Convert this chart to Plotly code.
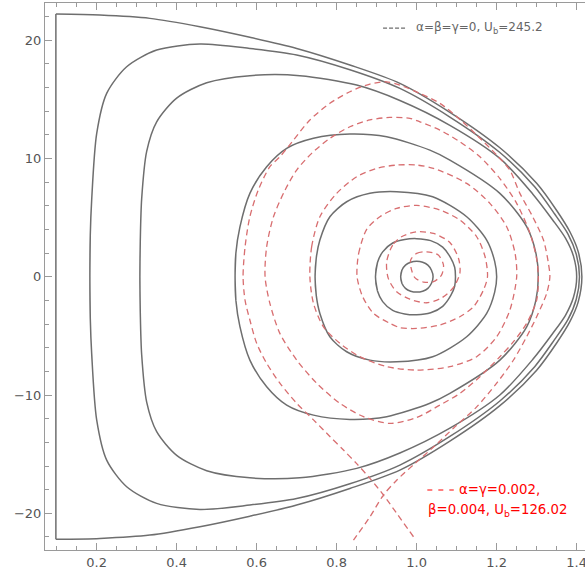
import plotly.graph_objects as go

# ---------------- data ----------------
# Gray closed curves (alpha=beta=gamma=0): upper halves, the curves are symmetric in y
c1_x = [0.960, 0.963, 0.972, 0.985, 1.000, 1.015, 1.028, 1.037, 1.041]
c1_y = [0.0, 0.55, 0.98, 1.22, 1.30, 1.22, 0.98, 0.55, 0.0]

c2_x = [0.897, 0.902, 0.915, 0.940, 0.970, 1.000, 1.035, 1.065, 1.085, 1.095, 1.097]
c2_y = [0.0, 1.2, 2.1, 2.85, 3.15, 3.22, 3.05, 2.5, 1.6, 0.8, 0.0]

c3_x = [0.746, 0.749, 0.758, 0.783, 0.825, 0.883, 0.950, 1.040, 1.125, 1.175, 1.195, 1.200]
c3_y = [0.0, 1.6, 3.1, 5.07, 6.34, 7.05, 7.19, 6.76, 5.07, 3.1, 1.3, 0.0]

c4_x = [0.546, 0.548, 0.558, 0.583, 0.625, 0.675, 0.742, 0.833, 0.925, 1.033, 1.083, 1.208, 1.275, 1.298, 1.304]
c4_y = [0.0, 2.0, 4.2, 7.05, 9.3, 10.85, 11.7, 12.06, 11.83, 10.7, 9.86, 7.05, 4.23, 2.0, 0.0]

c5_x = [0.308, 0.309, 0.3125, 0.325, 0.350, 0.400, 0.475, 0.583, 0.708, 0.850, 0.958, 1.083, 1.208, 1.290,
        1.340, 1.372, 1.392, 1.400]
c5_y = [0.0, 3.0, 6.6, 10.6, 13.1, 15.1, 16.4, 17.0, 17.0, 16.2, 14.9, 12.8, 10.0, 7.0,
        4.8, 3.26, 1.74, 0.0]

c6_x = [0.183, 0.184, 0.1875, 0.200, 0.225, 0.275, 0.350, 0.458, 0.583, 0.700, 0.833, 0.958, 1.083, 1.208,
        1.295, 1.345, 1.378, 1.399, 1.407]
c6_y = [0.0, 3.5, 6.5, 12.1, 15.5, 17.75, 19.16, 19.67, 19.3, 18.75, 17.5, 15.92, 13.5, 10.5,
        7.6, 5.3, 3.63, 1.9, 0.0]

# outermost curve: vertical left wall, then a smooth arc from the corner
c7_x = [0.098, 0.098, 0.208, 0.333, 0.458, 0.583, 0.700, 0.833, 0.958, 1.083, 1.208, 1.300,
        1.350, 1.383, 1.404, 1.413]
c7_y = [0.0, 22.2, 22.12, 21.84, 21.13, 20.24, 19.3, 17.9, 16.35, 13.9, 10.9, 7.9,
        5.6, 3.8, 2.1, 0.0]

# Red dashed curves (alpha=gamma=0.002, beta=0.004): closed loops
r1_x = [0.985, 1.000, 1.025, 1.054, 1.067, 1.062, 1.042, 1.017, 0.996, 0.987, 0.985]
r1_y = [1.41, 1.97, 2.11, 1.83, 0.99, 0.14, -0.42, -0.45, -0.10, 0.60, 1.41]

r2_x = [0.962, 0.940, 0.925, 0.929, 0.950, 0.983, 1.025, 1.062, 1.092, 1.108, 1.105, 1.083, 1.042, 1.000, 0.962]
r2_y = [3.38, 2.68, 1.27, -0.14, -1.27, -1.90, -2.20, -1.80, -0.90, 0.30, 1.50, 2.90, 3.66, 3.80, 3.38]

r3_x = [0.851, 0.855, 0.875, 0.908, 0.950, 1.000, 1.058, 1.108, 1.150, 1.171, 1.177, 1.167, 1.142, 1.108, 1.058,
        1.000, 0.958, 0.933, 0.892, 0.865, 0.851]
r3_y = [0.0, 1.97, 4.0, 5.07, 5.78, 6.03, 5.64, 4.79, 3.38, 1.69, 0.0, -1.12, -2.54, -3.38, -4.08,
        -4.37, -4.30, -3.94, -3.10, -1.69, 0.0]

r4_x = [0.733, 0.7375, 0.758, 0.800, 0.850, 0.900, 0.950, 1.000, 1.042, 1.125, 1.183, 1.225, 1.246, 1.250,
        1.233, 1.200, 1.150, 1.083, 1.000, 0.925, 0.858, 0.808, 0.767, 0.742, 0.733]
r4_y = [0.0, 2.54, 5.07, 7.05, 8.45, 9.16, 9.44, 9.44, 9.16, 7.89, 6.2, 4.23, 1.97, 0.0,
        -2.82, -5.07, -6.76, -7.6, -7.89, -7.6, -6.76, -5.63, -4.23, -2.25, 0.0]

r5_x = [0.621, 0.625, 0.642, 0.671, 0.700, 0.7375, 0.783, 0.833, 0.883, 0.933, 0.983, 1.008, 1.058, 1.108,
        1.158, 1.208, 1.250, 1.283, 1.300, 1.304, 1.300, 1.275, 1.242, 1.208, 1.158, 1.108, 1.058, 1.000,
        0.933, 0.867, 0.808, 0.750, 0.700, 0.658, 0.633, 0.621]
r5_y = [0.0, 2.54, 5.07, 7.33, 9.02, 10.43, 11.7, 12.68, 13.25, 13.47, 13.39, 13.1, 12.4, 11.41,
        10.14, 8.3, 6.2, 3.7, 1.5, 0.0, -1.97, -3.94, -5.49, -6.76, -8.45, -9.86, -10.85, -11.9,
        -12.4, -11.83, -10.7, -9.0, -7.04, -4.79, -2.25, 0.0]

# Red dashed separatrix through the crossing point near (0.917, -18.45)
r6_x = [0.992, 0.950, 0.917, 0.883, 0.850, 0.817, 0.783, 0.742, 0.700, 0.658, 0.625, 0.600, 0.583, 0.571,
        0.566, 0.571, 0.583, 0.604, 0.633, 0.658, 0.692, 0.733, 0.783, 0.833, 0.883, 0.925, 0.958, 1.008,
        1.058, 1.108, 1.150, 1.200, 1.233, 1.258, 1.290, 1.317, 1.329, 1.333, 1.325, 1.300, 1.275, 1.242,
        1.200, 1.150, 1.092, 1.042, 0.992, 0.950, 0.917, 0.883, 0.842]
r6_y = [-21.98, -20.0, -18.45, -17.04, -15.8, -14.65, -13.5, -12.1, -10.7, -9.0, -7.32, -5.63, -3.66, -2.0,
        0.0, 2.54, 5.07, 7.33, 9.3, 10.14, 11.55, 13.25, 14.66, 15.64, 16.29, 16.48, 16.2, 15.5,
        14.66, 13.3, 11.98, 10.29, 9.0, 7.05, 5.07, 3.1, 1.2, 0.0, -1.4, -3.38, -5.07, -7.04,
        -9.0, -11.0, -12.8, -14.4, -15.9, -17.2, -18.45, -20.3, -22.26]

x_tick_vals = [0.2, 0.4, 0.6, 0.8, 1.0, 1.2, 1.4]
x_tick_text = ["0.2", "0.4", "0.6", "0.8", "1.0", "1.2", "1.4"]
y_tick_vals = [-20, -10, 0, 10, 20]
y_tick_text = ["\u221220", "\u221210", "0", "10", "20"]

legend_gray = "\u03b1=\u03b2=\u03b3=0, U<sub>b</sub>=245.2"
legend_red_1 = "\u03b1=\u03b3=0.002,"
legend_red_2 = "\u03b2=0.004, U<sub>b</sub>=126.02"

# ---------------- styles ----------------
GRAY = "#6e6e6e"
RED = "rgb(216,110,112)"
FONT = "DejaVu Sans"

fig = go.Figure()


def mirrored(ux, uy):
    xs = list(ux) + list(ux[-2::-1])
    ys = list(uy) + [-v for v in uy[-2::-1]]
    return xs, ys


def gray_line(xs, ys, shape="spline"):
    fig.add_trace(go.Scatter(x=xs, y=ys, mode="lines",
                             line=dict(color=GRAY, width=1.5, shape=shape, smoothing=0.8),
                             hoverinfo="skip", showlegend=False))


for ux, uy in [(c1_x, c1_y), (c2_x, c2_y), (c3_x, c3_y), (c4_x, c4_y), (c5_x, c5_y), (c6_x, c6_y)]:
    xs, ys = mirrored(ux, uy)
    # wrap one point on each side so the spline closes smoothly
    xs = [xs[-2]] + xs + [xs[1]]
    ys = [ys[-2]] + ys + [ys[1]]
    gray_line(xs, ys)

# outermost: arc from upper corner around the right side to the lower corner, plus straight wall
xs, ys = mirrored(c7_x[1:], c7_y[1:])
gray_line(xs, ys)
gray_line([c7_x[1], c7_x[1]], [-c7_y[1], c7_y[1]], shape="linear")

for rx, ry in [(r1_x, r1_y), (r2_x, r2_y), (r3_x, r3_y), (r4_x, r4_y), (r5_x, r5_y), (r6_x, r6_y)]:
    fig.add_trace(go.Scatter(x=rx, y=ry, mode="lines",
                             line=dict(color=RED, width=1.3, dash="6px,4px", shape="spline", smoothing=0.8),
                             hoverinfo="skip", showlegend=False))

axis_common = dict(
    showgrid=False, zeroline=False, showline=True, linecolor="#9a9a9a", linewidth=1,
    ticks="inside", ticklen=7, tickwidth=1, tickcolor="#9a9a9a", automargin=False,
    ticklabeloverflow="allow",
    tickfont=dict(family=FONT, size=13, color="#555555"),
)

fig.update_xaxes(range=[0.0708, 1.4208], tickvals=x_tick_vals, ticktext=x_tick_text, mirror="ticks",
                 minor=dict(dtick=0.05, tick0=0, ticks="inside", ticklen=4, tickcolor="#9a9a9a"),
                 **axis_common)
fig.update_yaxes(range=[-23.1, 23.14], tickvals=y_tick_vals, ticktext=y_tick_text, mirror=False,
                 minor=dict(dtick=2, tick0=0, ticks="inside", ticklen=4, tickcolor="#9a9a9a"),
                 **axis_common)

# legend marks and texts (paper coordinates of the plot area)
fig.add_shape(type="line", xref="paper", yref="paper", x0=0.626, x1=0.667, y0=0.954, y1=0.954,
              line=dict(color=GRAY, width=1.2, dash="4px,2px"))
fig.add_annotation(xref="paper", yref="paper", x=0.683, y=0.954, xanchor="left", yanchor="middle",
                   text=legend_gray, showarrow=False, font=dict(family=FONT, size=12, color="#666666"))
fig.add_shape(type="line", xref="paper", yref="paper", x0=0.708, x1=0.757, y0=0.1097, y1=0.1097,
              line=dict(color="#ff0000", width=1.2, dash="5px,6px"))
fig.add_annotation(xref="paper", yref="paper", x=0.763, y=0.1097, xanchor="left", yanchor="middle",
                   text=legend_red_1, showarrow=False, font=dict(family=FONT, size=13.3, color="#ff0000"))
fig.add_annotation(xref="paper", yref="paper", x=0.706, y=0.0731, xanchor="left", yanchor="middle",
                   text=legend_red_2, showarrow=False, font=dict(family=FONT, size=13.3, color="#ff0000"))

fig.update_layout(width=585, height=579, margin=dict(l=45, r=0, t=3, b=29),
                  paper_bgcolor="white", plot_bgcolor="white")

fig.write_html("out.html", config={"displayModeBar": False},
               post_script="document.body.style.margin='0';document.body.style.padding='0';")
